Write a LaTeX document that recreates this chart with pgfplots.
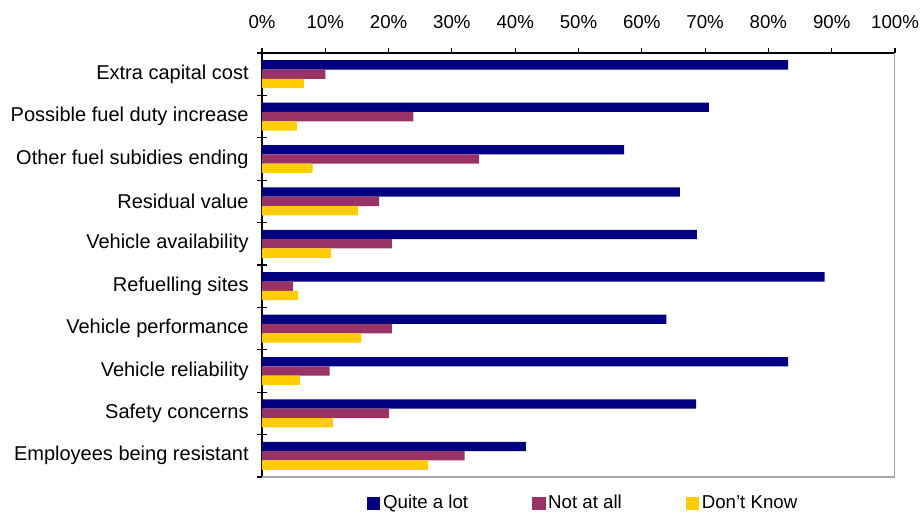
\documentclass[border=0pt]{standalone}
\usepackage{pgfplots}
\pgfplotsset{compat=1.18}
\usepackage{fontspec}
\setmainfont{Liberation Sans}
\definecolor{cNavy}{HTML}{000080}
\definecolor{cPlum}{HTML}{993366}
\definecolor{cGold}{HTML}{FFCC00}
\begin{document}
\begin{tikzpicture}
\begin{axis}[
  at={(0pt,0pt)}, anchor=south west,
  scale only axis,
  width=474.75pt, height=318pt,
  xbar,
  xmin=0, xmax=100,
  ymin=-0.5, ymax=9.5,
  y dir=reverse,
  axis line style={black, line width=0.8pt},
  axis x line*=top,
  axis y line*=left,
  xtick={0,10,...,100},
  xticklabel={\pgfmathprintnumber{\tick}\%},
  xticklabel style={yshift=14.5pt},
  /pgf/number format/assume math mode=true,
  x tick label style={font=\fontsize{14}{16}\selectfont},
  ytick={0,...,9},
  yticklabels={Extra capital cost,Possible fuel duty increase,Other fuel subidies ending,Residual value,Vehicle availability,Refuelling sites,Vehicle performance,Vehicle reliability,Safety concerns,Employees being resistant},
  y tick label style={font=\fontsize{15}{17}\selectfont, xshift=-2.5pt},
  major y tick style={draw=none},
  minor ytick={-0.5,0.5,...,9.5},
  minor y tick style={black, line width=0.8pt},
  minor tick length=7pt,
  major x tick style={black, line width=0.8pt},
  major tick length=4pt,
  x tick style={/pgfplots/tick align=outside},
  y tick style={/pgfplots/tick align=center},
  xtick pos=right,
  bar width=0.22,
  legend style={at={(0.508,-0.061)}, anchor=center, draw=none, legend columns=3,
    font=\fontsize{14}{16}\selectfont,
    /tikz/every even column/.append style={column sep=46pt}},
  legend image code/.code={\fill[#1] (0pt,-5.5pt) rectangle (10pt,4.5pt);},
]
\addplot[draw=none, fill=cNavy, bar shift=-0.22] coordinates {
(83.1,0) (70.6,1) (57.2,2) (66.0,3) (68.7,4) (88.9,5) (63.9,6) (83.1,7) (68.6,8) (41.7,9)};
\addplot[draw=none, fill=cPlum, bar shift=0] coordinates {
(10.0,0) (23.9,1) (34.3,2) (18.5,3) (20.5,4) (4.9,5) (20.5,6) (10.7,7) (20.1,8) (32.0,9)};
\addplot[draw=none, fill=cGold, bar shift=0.22] coordinates {
(6.6,0) (5.5,1) (8.0,2) (15.2,3) (10.9,4) (5.7,5) (15.7,6) (6.0,7) (11.2,8) (26.2,9)};
\legend{Quite a lot, Not at all, Don't Know}
\draw[gray!70, line width=1pt] (rel axis cs:0,0) -- (rel axis cs:1,0) -- (rel axis cs:1,1);
\end{axis}
\pgfresetboundingbox
\path[use as bounding box] (-196.5pt,-30pt) rectangle (495pt,357.75pt);
\end{tikzpicture}
\end{document}
